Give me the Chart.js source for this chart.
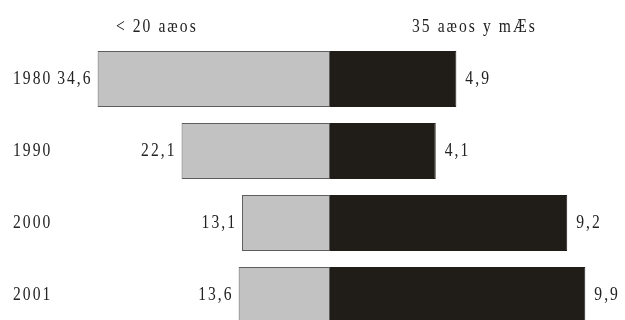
<!DOCTYPE html>
<html>
<head>
<meta charset="utf-8">
<script src="https://cdn.jsdelivr.net/npm/chart.js@4.4.0/dist/chart.umd.min.js"></script>
<style>
  html, body { margin: 0; padding: 0; background: #fff; overflow: hidden; }
  canvas { display: block; }
</style>
</head>
<body>
<canvas id="chart" width="625" height="340"></canvas>
<script>
const years = ['1980', '1990', '2000', '2001'];
const under20 = [34.6, 22.1, 13.1, 13.6];
const over35 = [4.9, 4.1, 9.2, 9.9];
const headers = ['< 20 aæos', '35 aæos y mÆs'];

const fmt = v => v.toFixed(1).replace('.', ',');
const FONT = '19px "Liberation Serif", "Times New Roman", serif';

// condensed text: narrow the glyphs horizontally, keep some tracking
function drawText(ctx, text, x, y, align) {
  ctx.save();
  ctx.translate(x, y);
  ctx.scale(0.82, 1);
  ctx.textAlign = align;
  ctx.fillText(text, 0, 0);
  ctx.restore();
}

// year labels, value labels and column headers
const labelPlugin = {
  id: 'labels',
  afterDatasetsDraw(chart) {
    const ctx = chart.ctx;
    const y = chart.scales.y;
    const xl = chart.scales.xl;
    const xr = chart.scales.xr;
    ctx.save();
    ctx.font = FONT;
    ctx.fillStyle = '#222';
    ctx.letterSpacing = '2.5px';
    ctx.textBaseline = 'middle';

    drawText(ctx, headers[0], 116, 27, 'left');
    drawText(ctx, headers[1], 412, 27, 'left');

    years.forEach((yr, i) => {
      const py = y.getPixelForValue(i);
      drawText(ctx, yr, 13, py, 'left');
      drawText(ctx, fmt(under20[i]), xl.getPixelForValue(under20[i]) - 5, py, 'right');
      drawText(ctx, fmt(over35[i]), xr.getPixelForValue(over35[i]) + 9, py, 'left');
    });
    ctx.restore();
  }
};

new Chart(document.getElementById('chart'), {
  type: 'bar',
  data: {
    labels: years,
    datasets: [
      {
        label: headers[0],
        data: under20,
        xAxisID: 'xl',
        backgroundColor: '#c2c2c2',
        borderColor: '#5e5e5e',
        borderWidth: 1,
        borderSkipped: false,
        grouped: false
      },
      {
        label: headers[1],
        data: over35,
        xAxisID: 'xr',
        backgroundColor: '#201c18',
        borderColor: '#201c18',
        borderWidth: 1,
        borderSkipped: false,
        grouped: false
      }
    ]
  },
  options: {
    indexAxis: 'y',
    responsive: false,
    animation: false,
    layout: { padding: { top: 43, bottom: 9, left: 60, right: 25 } },
    barPercentage: 0.78,
    categoryPercentage: 1,
    plugins: { legend: { display: false }, tooltip: { enabled: false } },
    scales: {
      y: { display: false, offset: true },
      xl: { display: false, reverse: true, min: -40.2, max: 40.2 },
      xr: { display: false, min: -10.47, max: 10.47 }
    }
  },
  plugins: [labelPlugin]
});
</script>
</body>
</html>
